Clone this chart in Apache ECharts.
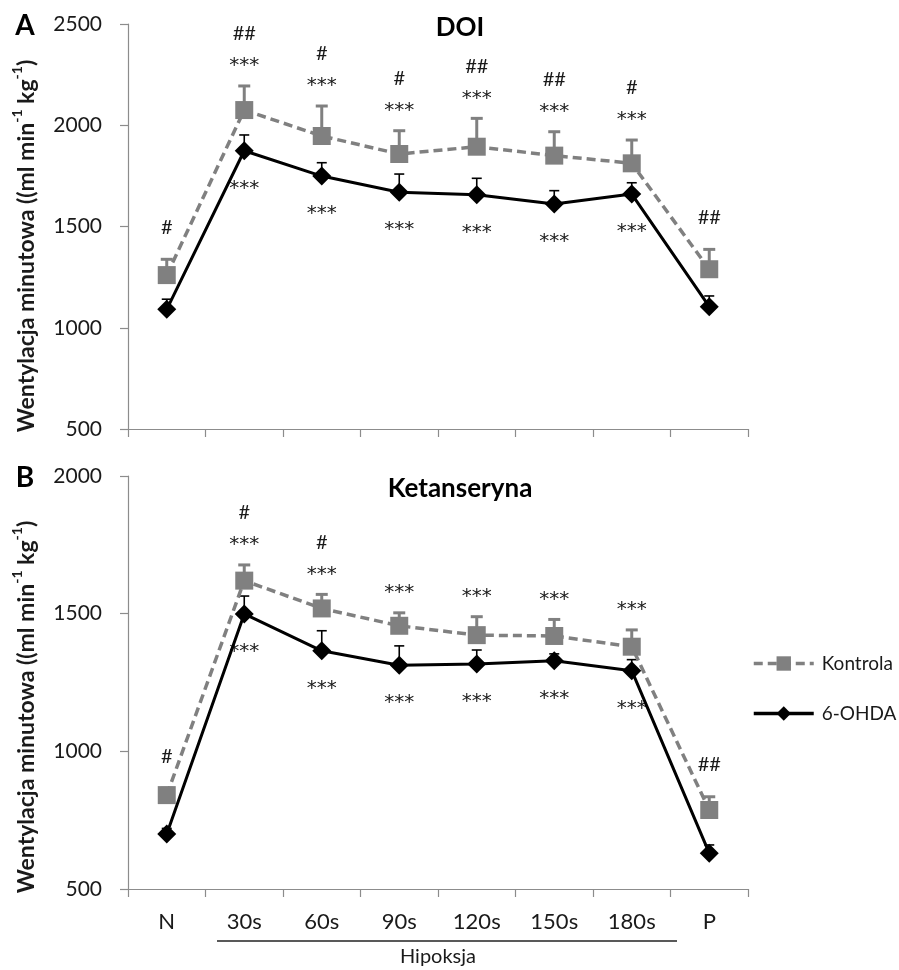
<!DOCTYPE html>
<html>
<head>
<meta charset="utf-8">
<script src="https://cdn.jsdelivr.net/npm/echarts@6/dist/echarts.min.js"></script>
<style>
html,body{margin:0;padding:0;background:#fff;}
#chart{width:899px;height:970px;}
</style>
</head>
<body>
<div id="chart"></div>
<script>
// ---------- data ----------
const categories = ['N', '30s', '60s', '90s', '120s', '150s', '180s', 'P'];

// Panel A (DOI)
const kontrolaA    = [1260, 2075, 1947, 1858, 1894, 1850, 1812, 1289];
const kontrolaErrA = [78, 119, 148, 115, 140, 118, 115, 98];
const ohdaA        = [1091, 1874, 1749, 1669, 1657, 1611, 1660, 1104];
const ohdaErrA     = [50, 78, 66, 90, 81, 66, 56, 53];
const hashA        = ['#', '##', '#', '#', '##', '##', '#', '##'];
const starsTopA    = ['', '***', '***', '***', '***', '***', '***', ''];
const starsBotA    = ['', '***', '***', '***', '***', '***', '***', ''];

// Panel B (Ketanseryna)
const kontrolaB    = [841, 1620, 1519, 1456, 1422, 1419, 1380, 787];
const kontrolaErrB = [25, 57, 51, 47, 67, 60, 61, 48];
const ohdaB        = [700, 1499, 1365, 1313, 1317, 1329, 1293, 630];
const ohdaErrB     = [20, 65, 73, 70, 51, 25, 40, 30];
const hashB        = ['#', '#', '#', '', '', '', '', '##'];
const starsTopB    = ['', '***', '***', '***', '***', '***', '***', ''];
const starsBotB    = ['', '***', '***', '***', '***', '***', '***', ''];

const yTicksA = [500, 2500, 500];  // min, max, interval
const yTicksB = [500, 2000, 500];

// ---------- styling ----------
const FONT = 'Lato';
const GRAY = '#808080';
const AXIS = '#8c8c8c';
const TXT = '#1a1a1a';
const STARFONT = '20px "DejaVu Sans"';
const HASHFONT = '20px ' + FONT;

function errRender(vals, errs, color, width, capW, hashes, starsAbove, starsBelow) {
  return function (params, api) {
    const i = params.dataIndex;
    const base = api.coord([i, vals[i]]);
    const top = api.coord([i, vals[i] + errs[i]]);
    const children = [
      { type: 'line', shape: { x1: base[0], y1: base[1], x2: top[0], y2: top[1] },
        style: { stroke: color, lineWidth: width } },
      { type: 'line', shape: { x1: top[0] - capW / 2, y1: top[1], x2: top[0] + capW / 2, y2: top[1] },
        style: { stroke: color, lineWidth: width } }
    ];
    const ts = (t, x, y, f) => ({ type: 'text', x: x, y: y,
      style: { text: t, font: f, fill: TXT, align: 'center', verticalAlign: 'middle' } });
    if (starsAbove && starsAbove[i]) {
      children.push(ts(starsAbove[i], top[0], top[1] - 20, STARFONT));
      if (hashes && hashes[i]) children.push(ts(hashes[i], top[0], top[1] - 52, HASHFONT));
    } else if (hashes && hashes[i]) {
      children.push(ts(hashes[i], top[0], top[1] - 32, HASHFONT));
    }
    if (starsBelow && starsBelow[i]) {
      children.push(ts(starsBelow[i], base[0], base[1] + 38, STARFONT));
    }
    return { type: 'group', children: children };
  };
}

function idxData(vals) { return vals.map((v, i) => [i, v]); }

function xAxisCfg(gridIndex, showLabels) {
  return {
    type: 'category', gridIndex: gridIndex, data: categories, boundaryGap: true,
    axisLine: { lineStyle: { color: AXIS, width: 1.2 } },
    axisTick: { show: true, length: 8, lineStyle: { color: AXIS, width: 1.2 } },
    axisLabel: { show: showLabels, margin: 22, fontSize: 22, fontFamily: FONT, color: TXT }
  };
}
function yAxisCfg(gridIndex, t) {
  return {
    type: 'value', gridIndex: gridIndex, min: t[0], max: t[1], interval: t[2],
    axisLine: { show: true, lineStyle: { color: AXIS, width: 1.2 } },
    axisTick: { show: true, length: 8, lineStyle: { color: AXIS, width: 1.2 } },
    splitLine: { show: false },
    axisLabel: { margin: 26, fontSize: 21, fontFamily: FONT, color: TXT, formatter: v => String(v) }
  };
}

function lineSeries(name, axisIdx, vals, kontrola) {
  return {
    name: name, type: 'line', xAxisIndex: axisIdx, yAxisIndex: axisIdx,
    data: vals, z: kontrola ? 3 : 4,
    symbol: kontrola ? 'rect' : 'diamond',
    symbolSize: kontrola ? 18 : 19,
    itemStyle: { color: kontrola ? GRAY : '#000' },
    lineStyle: kontrola ? { color: GRAY, width: 3.5, type: [9, 5] } : { color: '#000', width: 3 }
  };
}
function errSeries(name, axisIdx, vals, errs, kontrola, hashes, starsAbove, starsBelow) {
  return {
    name: name, type: 'custom', xAxisIndex: axisIdx, yAxisIndex: axisIdx, z: kontrola ? 2 : 2.5,
    data: idxData(vals), encode: { x: 0, y: 1 },
    renderItem: errRender(vals, errs, kontrola ? GRAY : '#000', kontrola ? 3 : 1.6, kontrola ? 12 : 10,
      hashes, starsAbove, starsBelow)
  };
}

const yName = '{n|Wentylacja minutowa ((ml min}{s|-1}{n| kg}{s|-1}{n|)}';
const yNameRich = {
  n: { font: 'bold 23px ' + FONT, fill: TXT, lineHeight: 28, verticalAlign: 'bottom' },
  s: { font: 'bold 14px ' + FONT, fill: TXT, lineHeight: 28, verticalAlign: 'top' }
};

const chart = echarts.init(document.getElementById('chart'));
chart.setOption({
  animation: false,
  backgroundColor: '#fff',
  grid: [
    { left: 128, width: 620, top: 24, height: 405 },
    { left: 128, width: 620, top: 476, height: 413 }
  ],
  xAxis: [xAxisCfg(0, false), xAxisCfg(1, true)],
  yAxis: [yAxisCfg(0, yTicksA), yAxisCfg(1, yTicksB)],
  legend: {
    orient: 'vertical', left: 747, top: 649, itemWidth: 60, itemHeight: 18, itemGap: 31,
    data: ['Kontrola', '6-OHDA'],
    lineStyle: { width: 3.5 },
    textStyle: { fontSize: 19, fontFamily: FONT, color: TXT, padding: [0, 0, 0, 3] }
  },
  series: [
    errSeries('errKA', 0, kontrolaA, kontrolaErrA, true, hashA, starsTopA, null),
    errSeries('errOA', 0, ohdaA, ohdaErrA, false, null, null, starsBotA),
    lineSeries('Kontrola', 0, kontrolaA, true),
    lineSeries('6-OHDA', 0, ohdaA, false),
    errSeries('errKB', 1, kontrolaB, kontrolaErrB, true, hashB, starsTopB, null),
    errSeries('errOB', 1, ohdaB, ohdaErrB, false, null, null, starsBotB),
    lineSeries('Kontrola', 1, kontrolaB, true),
    lineSeries('6-OHDA', 1, ohdaB, false)
  ],
  graphic: [
    { type: 'text', x: 25, y: 26, style: { text: 'A', font: 'bold 28px ' + FONT, fill: '#000', align: 'center', verticalAlign: 'middle' } },
    { type: 'text', x: 25, y: 478, style: { text: 'B', font: 'bold 28px ' + FONT, fill: '#000', align: 'center', verticalAlign: 'middle' } },
    { type: 'text', x: 460, y: 28, style: { text: 'DOI', font: 'bold 26px ' + FONT, fill: '#000', align: 'center', verticalAlign: 'middle' } },
    { type: 'text', x: 460, y: 489, style: { text: 'Ketanseryna', font: 'bold 26px ' + FONT, fill: '#000', align: 'center', verticalAlign: 'middle' } },
    { type: 'text', x: 24, y: 246, rotation: Math.PI / 2,
      style: { text: yName, rich: yNameRich, align: 'center', verticalAlign: 'middle' } },
    { type: 'text', x: 24, y: 707, rotation: Math.PI / 2,
      style: { text: yName, rich: yNameRich, align: 'center', verticalAlign: 'middle' } },
    { type: 'line', shape: { x1: 217, y1: 941, x2: 677, y2: 941 }, style: { stroke: '#222', lineWidth: 1.5 } },
    { type: 'text', x: 438, y: 957, style: { text: 'Hipoksja', font: '20px ' + FONT, fill: TXT, align: 'center', verticalAlign: 'middle' } }
  ]
});
</script>
</body>
</html>
